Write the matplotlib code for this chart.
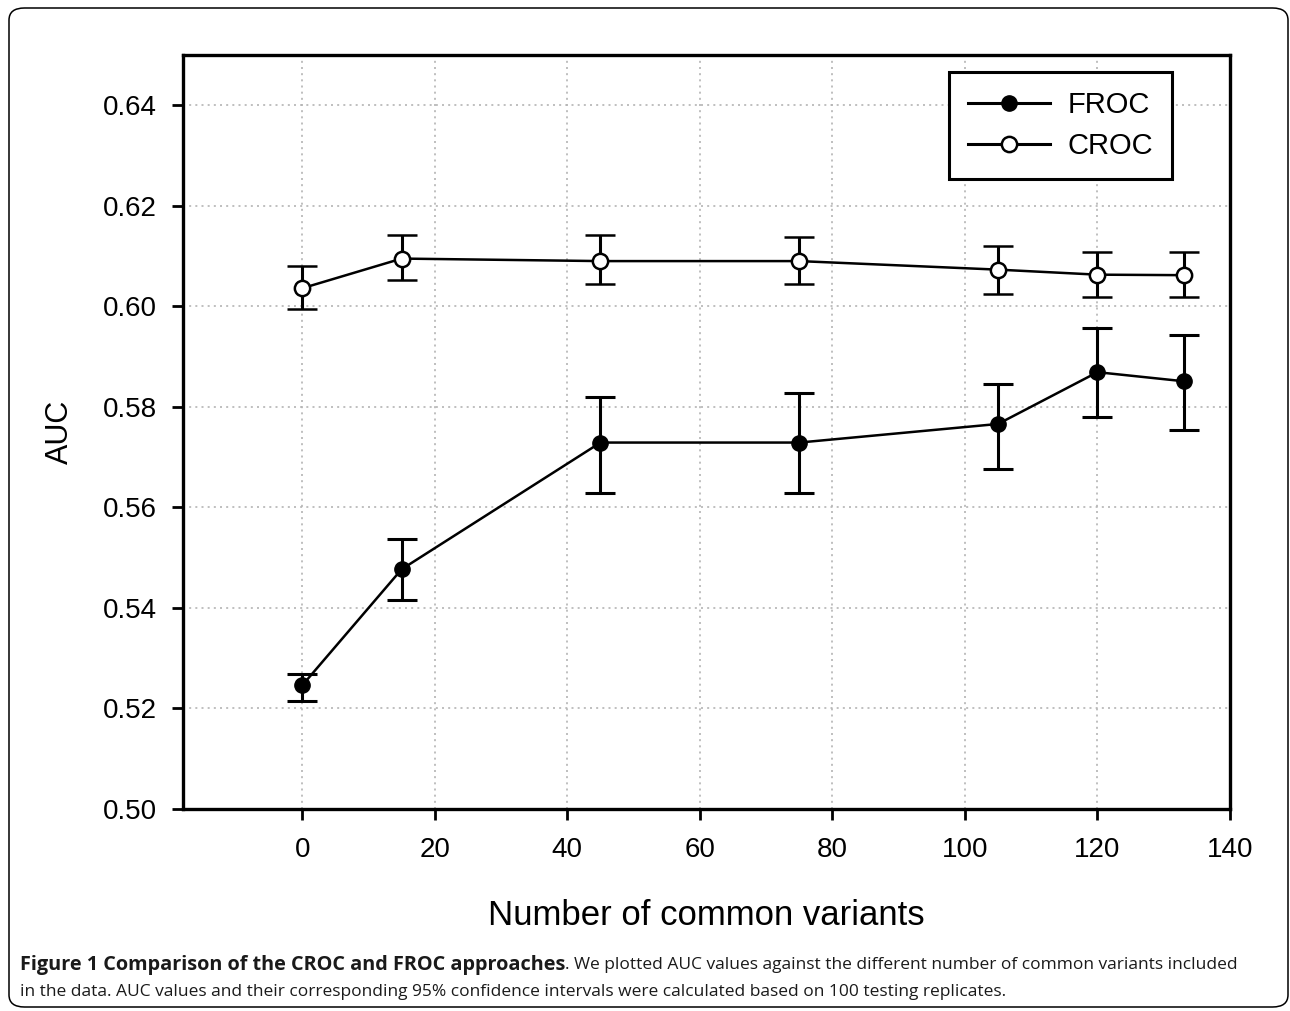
import matplotlib
matplotlib.use("Agg")
import matplotlib.pyplot as plt
from matplotlib.patches import FancyBboxPatch
from matplotlib.lines import Line2D

# ---- data ----
x_vals = [0, 15, 45, 75, 105, 120, 133]
froc = [0.5246, 0.5477, 0.5729, 0.5729, 0.5766, 0.5869, 0.5851]
froc_lo = [0.5214, 0.5416, 0.5629, 0.5629, 0.5677, 0.5780, 0.5754]
froc_hi = [0.5269, 0.5537, 0.5820, 0.5828, 0.5846, 0.5956, 0.5943]
croc = [0.6036, 0.6095, 0.6090, 0.6090, 0.6073, 0.6063, 0.6062]
croc_lo = [0.5994, 0.6052, 0.6044, 0.6044, 0.6024, 0.6018, 0.6018]
croc_hi = [0.6081, 0.6141, 0.6141, 0.6137, 0.6121, 0.6108, 0.6108]
x_ticks = [0, 20, 40, 60, 80, 100, 120, 140]
y_ticks = [0.50, 0.52, 0.54, 0.56, 0.58, 0.60, 0.62, 0.64]
series_names = ["FROC", "CROC"]
x_label = "Number of common variants"
y_label = "AUC"
caption_bold = "Figure 1 Comparison of the CROC and FROC approaches"
caption_rest = ". We plotted AUC values against the different number of common variants included"
caption_line2 = ("in the data. AUC values and their corresponding 95% confidence intervals "
                 "were calculated based on 100 testing replicates.")

W, H = 1290, 1011
fig = plt.figure(figsize=(W / 100, H / 100), dpi=100)

# outer rounded frame
box = FancyBboxPatch((9 / W, 4 / H), (1279 / W), (999 / H),
                     boxstyle="round,pad=0,rounding_size=0.012",
                     transform=fig.transFigure, fill=False,
                     edgecolor="black", linewidth=1.1)
fig.patches.append(box)

ax_l, ax_r, ax_t, ax_b = 183, 1230, 55, 809
ax = fig.add_axes([ax_l / W, 1 - ax_b / H, (ax_r - ax_l) / W, (ax_b - ax_t) / H])

tick_font = dict(family=["Liberation Sans", "DejaVu Sans"], size=20)

def errs(v, lo, hi):
    return [[a - b for a, b in zip(v, lo)], [c - a for a, c in zip(v, hi)]]

ax.errorbar(x_vals, froc, yerr=errs(froc, froc_lo, froc_hi), color="black",
            linewidth=1.8, elinewidth=2.2, capsize=11, capthick=2.2,
            marker="o", markersize=11, markerfacecolor="black",
            markeredgecolor="black", zorder=3)
ax.errorbar(x_vals, croc, yerr=errs(croc, croc_lo, croc_hi), color="black",
            linewidth=1.8, elinewidth=2.2, capsize=11, capthick=2.2,
            marker="o", markersize=11, markerfacecolor="white",
            markeredgecolor="black", markeredgewidth=1.8, zorder=3)

ax.set_xlim(-18, 140)
ax.set_ylim(0.50, 0.65)
ax.set_xticks(x_ticks)
ax.set_yticks(y_ticks)
ax.set_xticklabels([str(t) for t in x_ticks], **tick_font)
ax.set_yticklabels([f"{t:.2f}" for t in y_ticks], **tick_font)
ax.tick_params(axis="x", direction="out", length=8, width=2, pad=12)
ax.tick_params(axis="y", direction="out", length=8, width=2, pad=11)
ax.grid(True, linestyle=(0, (1.2, 2.5)), color="#b4b4b4", linewidth=1.2)
ax.set_axisbelow(True)
for s in ax.spines.values():
    s.set_linewidth(2.4)
    s.set_color("black")

ax.set_xlabel(x_label, family=["Liberation Sans", "DejaVu Sans"], size=25, labelpad=26)
ax.set_ylabel(y_label, family=["Liberation Sans", "DejaVu Sans"], size=22, labelpad=20)

handles = [
    Line2D([], [], color="black", linewidth=2.2, marker="o", markersize=11,
           markerfacecolor="black", markeredgecolor="black"),
    Line2D([], [], color="black", linewidth=2.2, marker="o", markersize=11,
           markerfacecolor="white", markeredgecolor="black", markeredgewidth=1.8),
]
leg = ax.legend(handles, series_names, loc="upper right",
                bbox_to_anchor=((1172 - ax_l) / (ax_r - ax_l),
                                1 - (72 - ax_t) / (ax_b - ax_t)),
                prop=dict(family=["Liberation Sans", "DejaVu Sans"], size=21),
                frameon=True, fancybox=False, edgecolor="black", framealpha=1,
                borderpad=0.65, handlelength=2.8, handletextpad=0.6,
                labelspacing=0.45, borderaxespad=0)
leg.get_frame().set_linewidth(2.2)

cap_font = ["Open Sans", "DejaVu Sans"]
t1 = fig.text(20 / W, 1 - 965 / H, caption_bold, family=cap_font, size=14.3,
              weight="bold", color="#1a1a1a", va="center", ha="left")
fig.canvas.draw()
bb = t1.get_window_extent()
fig.text(bb.x1 / W, 1 - 965 / H, caption_rest, family=cap_font, size=12.5,
         color="#1a1a1a", va="center", ha="left")
fig.text(20 / W, 1 - 992 / H, caption_line2, family=cap_font, size=12.5,
         color="#1a1a1a", va="center", ha="left")

fig.savefig("out.png", dpi=100, facecolor="white")
